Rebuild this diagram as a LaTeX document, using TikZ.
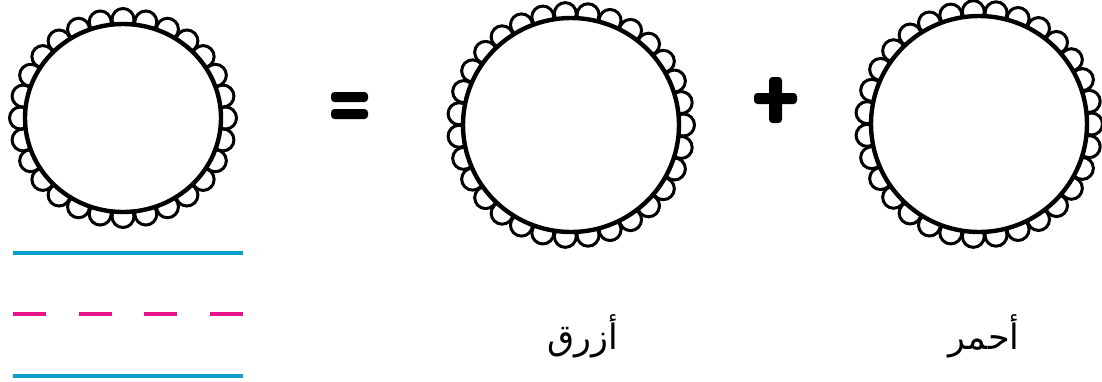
\documentclass[tikz,border=0pt]{standalone}
\usepackage{fontspec}
\newfontfamily\arabicfont[Script=Arabic]{DejaVu Sans}
\TeXXeTstate=1
\definecolor{lineblue}{HTML}{0AA0CC}
\definecolor{linepink}{HTML}{E8148C}
\tikzset{
  scallop/.style={draw=black, fill=white, line width=3pt},
  rim/.style={draw=black, fill=white, line width=4.4pt},
  signbar/.style={fill=black, rounded corners=3.5pt},
  guide/.style={line width=3.2pt},
  label/.style={font=\arabicfont\fontsize{35}{42}\selectfont, inner sep=0pt}
}
\newcommand{\scallopcircle}[5]{% cx cy rx ry n
  \foreach \i in {1,...,#5}{
    \pgfmathsetmacro{\a}{360*\i/#5}
    \path[scallop] ({#1+(#3+4.5)*cos(\a)},{#2+(#4+4.5)*sin(\a)}) circle (11pt);
  }
  \path[rim] (#1,#2) ellipse [x radius=#3pt, y radius=#4pt];
}
\begin{document}
\begin{tikzpicture}[x=1pt,y=-1pt]
\useasboundingbox (0,0) rectangle (1102,381);
% scalloped circles
\scallopcircle{123}{118}{98}{94}{28}
\scallopcircle{571}{125}{108}{107}{31}
\scallopcircle{979}{124}{108}{108}{31}
% equals sign
\fill[signbar] (331,92) rectangle (368,102);
\fill[signbar] (331,109) rectangle (368,119);
% plus sign
\fill[signbar] (754,93) rectangle (797,104);
\fill[signbar] (769,77) rectangle (782,123);
% handwriting lines
\coordinate (l1a) at (13,253); \coordinate (l1b) at (243,253);
\coordinate (l2a) at (13,314); \coordinate (l2b) at (243,314);
\coordinate (l3a) at (13,376); \coordinate (l3b) at (243,376);
\draw[guide, lineblue] (l1a) -- (l1b);
\draw[guide, linepink, dash pattern=on 33pt off 32.7pt] (l2a) -- (l2b);
\draw[guide, lineblue] (l3a) -- (l3b);
% labels
\node[label] (blue) at (583,336) {\beginR أزرق\endR};
\node[label] (red) at (984,336) {\beginR أحمر\endR};
\end{tikzpicture}
\end{document}
